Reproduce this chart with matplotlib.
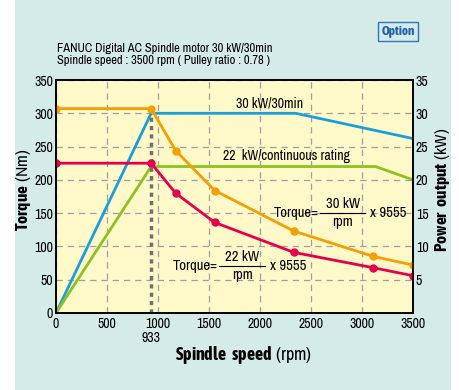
import matplotlib
matplotlib.use("Agg")
import matplotlib.pyplot as plt
from matplotlib.patches import Rectangle

plt.rcParams['font.family'] = ['Archivo Narrow', 'DejaVu Sans']
plt.rcParams['mathtext.fontset'] = 'custom'
plt.rcParams['mathtext.rm'] = 'Archivo Narrow'
plt.rcParams['mathtext.bf'] = 'Asap Condensed:bold'

# data
speed = [0, 933, 1173, 1556, 2333, 3111, 3500]
torque_30min = [307, 307, 244, 184, 123, 85, 72]
torque_cont = [225, 225, 180, 136, 91, 68, 56]

speed_30min = [0, 933, 2350, 3500]
power_30min = [0, 30, 30, 26.2]
speed_cont = [0, 933, 3134, 3500]
power_cont = [0, 22, 22, 20]

base_speed = 933
x_ticks = [0, 500, 1000, 1500, 2000, 2500, 3000, 3500]
torque_ticks = [0, 50, 100, 150, 200, 250, 300, 350]
power_ticks = [5, 10, 15, 20, 25, 30, 35]

ORANGE = '#f5a000'
RED = '#e6004c'
BLUE = '#19a0dc'
GREEN = '#8cc31e'
TEAL = '#d5ebe8'
YELLOW = '#fff8c8'

W, H = 460, 390

fig = plt.figure(figsize=(4.6, 3.9), dpi=100, facecolor='white')
fig.patches.append(Rectangle((15 / W, 0), 436 / W, 1, transform=fig.transFigure,
                             facecolor=TEAL, edgecolor='none', zorder=-10))

ax2 = fig.add_axes([56 / W, 77 / H, 357 / W, 233 / H])
ax = ax2.twinx()
ax.yaxis.tick_left()
ax2.yaxis.tick_right()
ax.set_zorder(ax2.get_zorder() + 1)
ax.patch.set_visible(False)
ax2.set_facecolor(YELLOW)

# power curves (bottom layer)
ax2.plot(speed_30min, power_30min, color=BLUE, lw=2)
ax2.plot(speed_cont, power_cont, color=GREEN, lw=2)
ax2.set_ylim(0, 35)
ax2.set_xlim(0, 3500)
ax2.set_yticks(power_ticks)
ax2.set_xticks(x_ticks)
ax2.grid(True, color='#a0a0a0', ls=(0, (5, 4)), lw=0.9)
ax2.set_axisbelow(True)

# torque curves
ax.axvline(base_speed, ymin=0, ymax=300 / 350, color='#707070', lw=2.5, ls=(0, (1.2, 1.2)), zorder=1.5)
ax.plot(speed, torque_30min, color=ORANGE, lw=2, marker='o', ms=5)
ax.plot(speed, torque_cont, color=RED, lw=2, marker='o', ms=5)
ax.set_ylim(0, 350)
ax.set_xlim(0, 3500)
ax.set_yticks(torque_ticks)

for a in (ax, ax2):
    a.tick_params(length=0, labelsize=10, pad=2)
    for s in a.spines.values():
        s.set_linewidth(1.2)
        s.set_color('black')
ax2.tick_params(axis='x', pad=3)
ax.text(base_speed, -27, '933', ha='center', va='top', fontsize=10)

fig.text(24 / W, 1 - 190 / H, r'$\bf{Torque}$ (Nm)', rotation=90,
         ha='center', va='center', fontsize=12.5)
fig.text(443 / W, 1 - 190 / H, r'$\bf{Power\ output}$ (kW)', rotation=90,
         ha='center', va='center', fontsize=12.5)
fig.text(243 / W, 1 - 355 / H, r'$\bf{Spindle\ speed}$ (rpm)',
         ha='center', va='center', fontsize=13)

ax.text(2090, 314, '30 kW/30min', ha='center', va='center', fontsize=10)
ax.text(1637, 236, '22  kW/continuous rating', ha='left', va='center', fontsize=10)


def torque_formula(x0, x1, y, kw):
    # "Torque = kW / rpm x 9555" written as a stacked fraction
    xm = (x0 + x1) / 2
    ax.text(x0 - 15, y, 'Torque=', ha='right', va='center', fontsize=10.5)
    ax.plot([x0, x1], [y, y], color='black', lw=0.8)
    ax.text(xm, y + 3, kw, ha='center', va='bottom', fontsize=10.5)
    ax.text(xm, y - 3, 'rpm', ha='center', va='top', fontsize=10.5)
    ax.text(x1 + 50, y, 'x 9555', ha='left', va='center', fontsize=10.5)


torque_formula(2590, 3030, 150, '30 kW')
torque_formula(1600, 2050, 71, '22 kW')

fig.text(57 / W, 1 - 48 / H, 'FANUC Digital AC Spindle motor 30 kW/30min', fontsize=9, va='center')
fig.text(57 / W, 1 - 61 / H, 'Spindle speed : 3500 rpm ( Pulley ratio : 0.78 )', fontsize=9, va='center')
fig.text(398 / W, 1 - 31.5 / H, 'Option', fontsize=9.5, fontweight='bold', family='Asap Condensed',
         color='#1f5fb0', ha='center', va='center',
         bbox=dict(boxstyle='square,pad=0.22', fc=TEAL, ec='#2f74c0', lw=1))

fig.savefig('out.png', dpi=100, facecolor='white')
